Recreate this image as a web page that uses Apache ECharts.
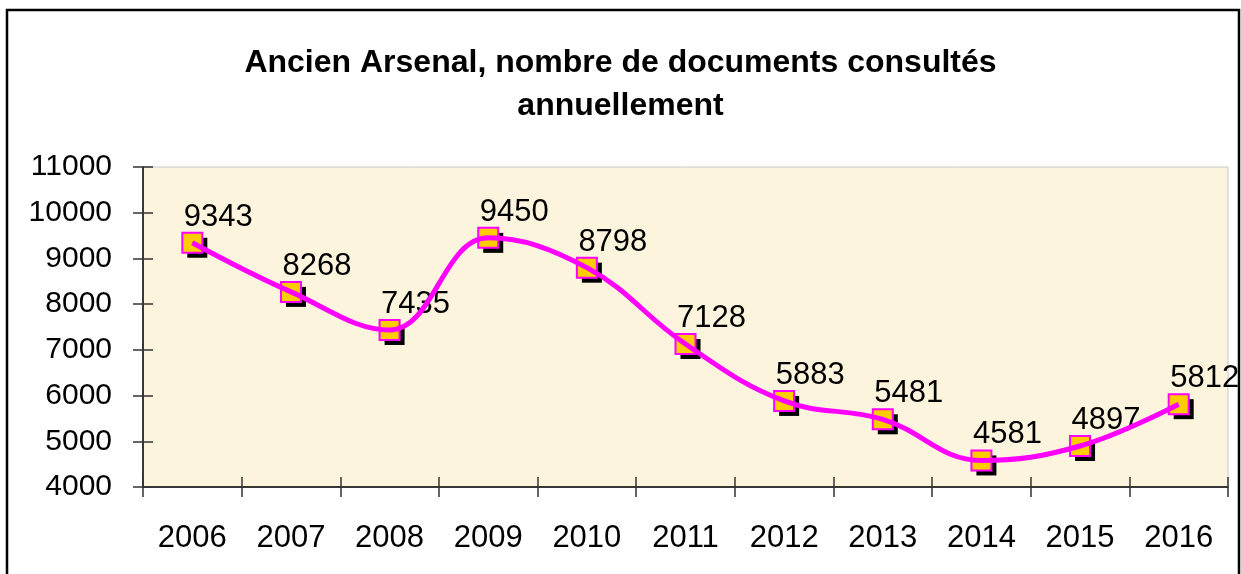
<!DOCTYPE html>
<html>
<head>
<meta charset="utf-8">
<script src="https://cdn.jsdelivr.net/npm/echarts@6/dist/echarts.min.js"></script>
<style>
  html, body { margin: 0; padding: 0; background: #fff; }
  #chart { width: 1241px; height: 574px; }
</style>
</head>
<body>
<div id="chart"></div>
<script>
// données
const annees = ['2006', '2007', '2008', '2009', '2010', '2011', '2012', '2013', '2014', '2015', '2016'];
const documents = [9343, 8268, 7435, 9450, 8798, 7128, 5883, 5481, 4581, 4897, 5812];
const titre = 'Ancien Arsenal, nombre de documents consultés\nannuellement';

const police = "'Liberation Sans', Arial, sans-serif";

const chart = echarts.init(document.getElementById('chart'));

// graduations croisées : un axe pour l'extérieur, un second pour l'intérieur
const ticks = { show: true, length: 10, lineStyle: { color: '#333', width: 1.5 } };

const option = {
  backgroundColor: '#fff',
  animation: false,
  title: {
    text: titre,
    left: 'center',
    top: 37,
    textStyle: {
      fontFamily: police,
      fontSize: 32,
      fontWeight: 'bold',
      color: '#000',
      lineHeight: 43
    }
  },
  grid: {
    left: 143,
    right: 13,
    top: 167,
    bottom: 87,
    show: true,
    backgroundColor: '#fcf4dc',
    borderColor: '#c8c8c8',
    borderWidth: 1
  },
  xAxis: [{
    type: 'category',
    data: annees,
    boundaryGap: true,
    axisLine: { lineStyle: { color: '#000', width: 1.5 } },
    axisTick: ticks,
    axisLabel: { fontFamily: police, fontSize: 31, color: '#000', margin: 36 },
    splitLine: { show: false }
  }, {
    type: 'category',
    data: annees,
    position: 'bottom',
    boundaryGap: true,
    axisLine: { show: false },
    axisTick: Object.assign({}, ticks, { inside: true }),
    axisLabel: { show: false },
    splitLine: { show: false }
  }],
  yAxis: [{
    type: 'value',
    min: 4000,
    max: 11000,
    interval: 1000,
    axisLine: { show: true, lineStyle: { color: '#000', width: 1.5 } },
    axisTick: ticks,
    axisLabel: {
      fontFamily: police, fontSize: 30, color: '#000', margin: 31,
      formatter: v => String(v)
    },
    splitLine: { show: false }
  }, {
    type: 'value',
    min: 4000,
    max: 11000,
    interval: 1000,
    position: 'left',
    axisLine: { show: false },
    axisTick: Object.assign({}, ticks, { inside: true }),
    axisLabel: { show: false },
    splitLine: { show: false }
  }],
  series: [{
    // la courbe lissée
    type: 'line',
    data: documents,
    smooth: 0.4,
    showSymbol: false,
    lineStyle: { color: '#ff00ff', width: 5 },
    silent: true
  }, {
    // ombre noire des marqueurs
    type: 'scatter',
    data: documents,
    symbol: 'rect',
    symbolSize: 20,
    symbolOffset: [5, 5],
    itemStyle: { color: '#000', opacity: 1 },
    silent: true
  }, {
    // marqueurs carrés + étiquettes
    type: 'scatter',
    data: documents,
    symbol: 'rect',
    symbolSize: 20,
    itemStyle: { color: '#ffcc00', borderColor: '#ff00ff', borderWidth: 2, opacity: 1 },
    label: {
      show: true,
      position: 'top',
      distance: 2,
      offset: [26, 3],
      fontFamily: police,
      fontSize: 31,
      color: '#000',
      opacity: 1
    }
  }],
  graphic: [{
    type: 'rect',
    shape: { x: 7, y: 10, width: 1232, height: 620 },
    style: { fill: null, stroke: '#000', lineWidth: 2.5 },
    silent: true
  }]
};

chart.setOption(option);
</script>
</body>
</html>
